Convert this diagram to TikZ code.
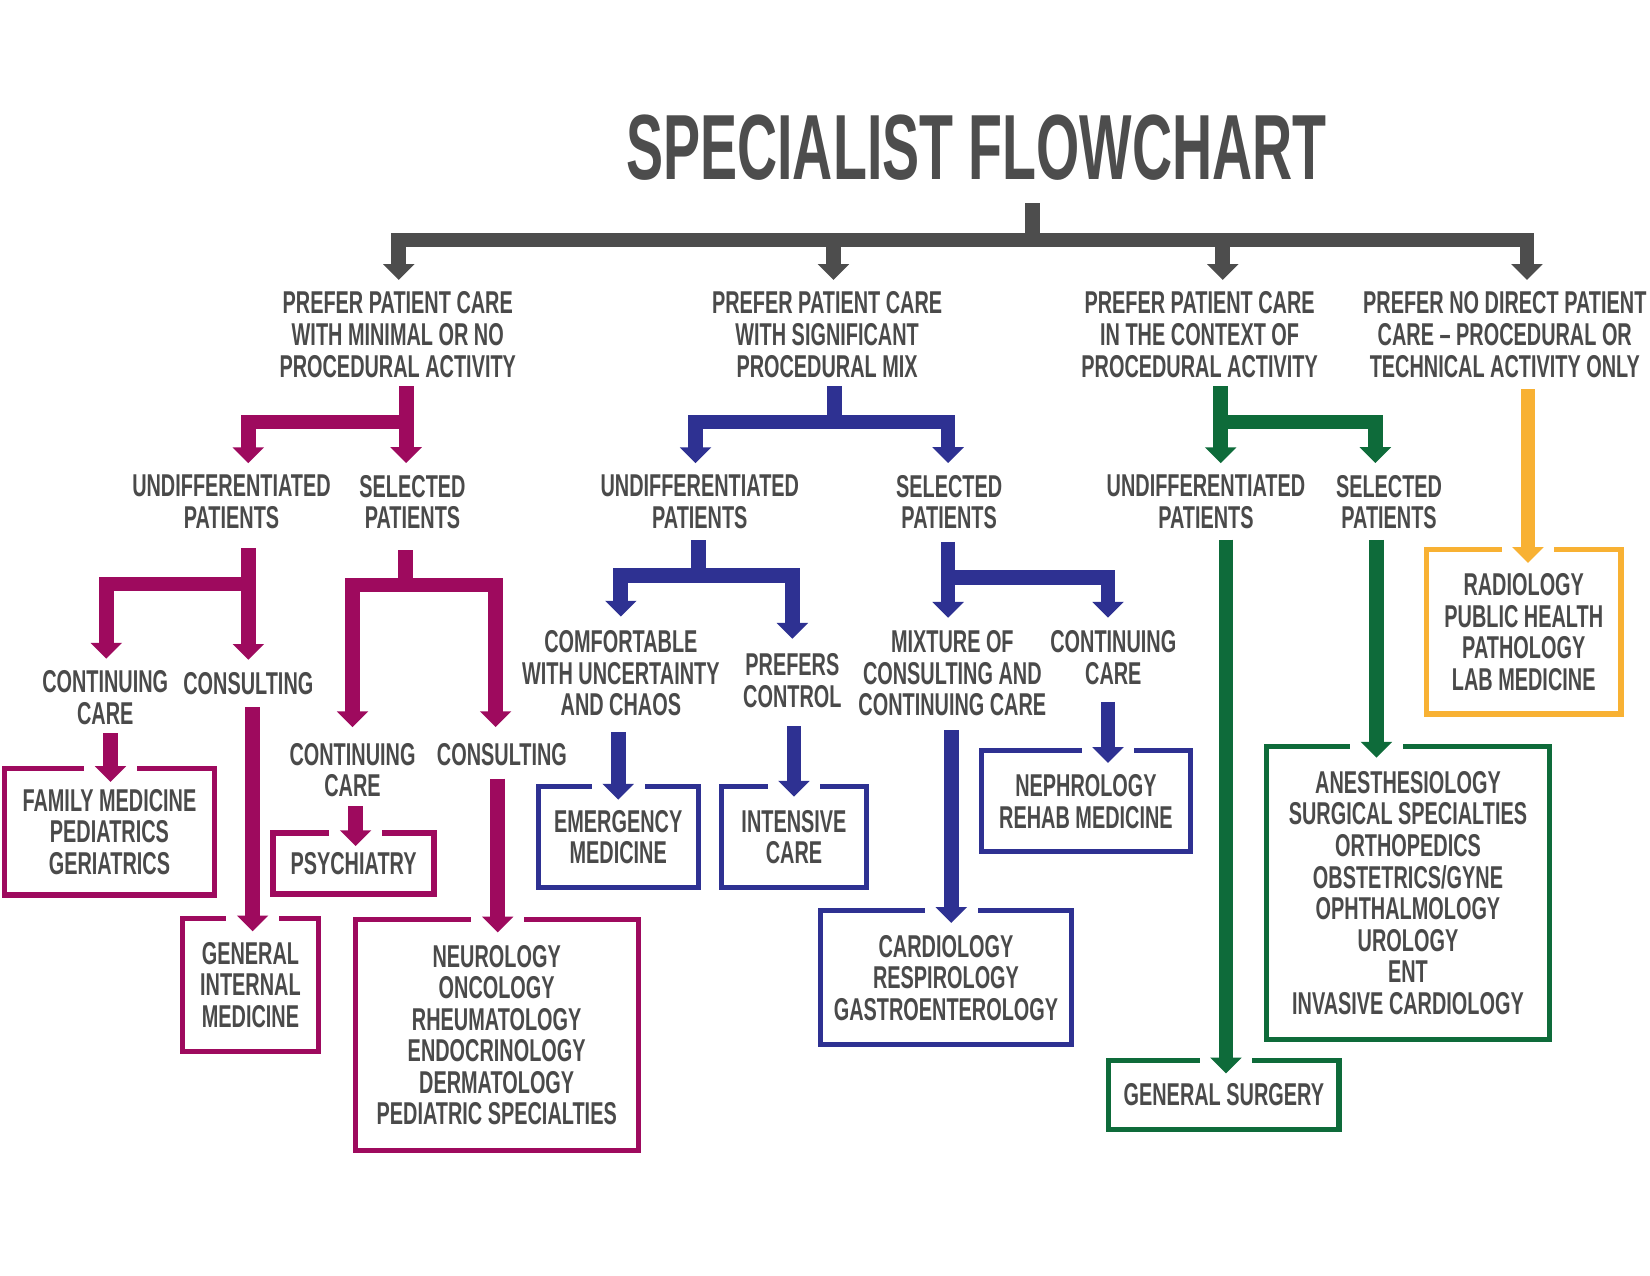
\documentclass[tikz,border=0pt]{standalone}
\usepackage{fontspec}
\newfontfamily\chartfont[FakeStretch=0.63,UprightFont={* Bold}]{Liberation Sans}
\newfontfamily\titlefont[FakeStretch=0.6,UprightFont={* Bold}]{Liberation Sans}
\usepackage{xcolor}
\definecolor{chartgray}{HTML}{4D4D4D}
\definecolor{txtgray}{HTML}{4A4A4A}
\definecolor{chartmag}{HTML}{9E0A5E}
\definecolor{chartblue}{HTML}{2E3192}
\definecolor{chartgreen}{HTML}{0E6B3A}
\definecolor{chartorange}{HTML}{F8B133}
\usetikzlibrary{arrows.meta,calc}

\begin{document}
\begin{tikzpicture}[
  x=0.5pt, y=0.5pt,
  lbl/.style={font=\chartfont\fontsize{15}{15}\selectfont, text=txtgray,
              align=center, inner sep=0pt},
  box/.style={lbl, draw, line width=2.5pt, text depth=-4.5pt},
  link/.style={line width=7pt, line join=miter},
  tipped/.style={-{Triangle[width=14.5pt,length=7.5pt]}},
  grayline/.style={link, chartgray},
  grayarrow/.style={grayline, tipped},
  mline/.style={link, chartmag},
  marrow/.style={mline, tipped},
  bline/.style={link, chartblue},
  barrow/.style={bline, tipped},
  grarrow/.style={link, chartgreen, tipped},
  oarrow/.style={link, chartorange, tipped}
]
  \useasboundingbox (0,0) rectangle (1568,-1212);
  \fill[white] (0,0) rectangle (1568,-1212);

  % title and first level
  \node[lbl, font=\titlefont\fontsize{44}{44}\selectfont, text=chartgray] (title) at (928,-140) {SPECIALIST FLOWCHART};
  \node[lbl] (l1a) at (378,-318) {PREFER PATIENT CARE\\WITH MINIMAL OR NO\\PROCEDURAL ACTIVITY};
  \node[lbl] (l1b) at (786,-318) {PREFER PATIENT CARE\\WITH SIGNIFICANT\\PROCEDURAL MIX};
  \node[lbl] (l1c) at (1140,-318) {PREFER PATIENT CARE\\IN THE CONTEXT OF\\PROCEDURAL ACTIVITY};
  \node[lbl] (l1d) at (1430,-318) {PREFER NO DIRECT PATIENT\\CARE – PROCEDURAL OR\\TECHNICAL ACTIVITY ONLY};

  % second level
  \node[lbl] (und1) at (220,-477) {UNDIFFERENTIATED\\PATIENTS};
  \node[lbl] (sel1) at (392,-477) {SELECTED\\PATIENTS};
  \node[lbl] (und2) at (665,-477) {UNDIFFERENTIATED\\PATIENTS};
  \node[lbl] (sel2) at (902,-477) {SELECTED\\PATIENTS};
  \node[lbl] (und3) at (1146,-477) {UNDIFFERENTIATED\\PATIENTS};
  \node[lbl] (sel3) at (1320,-477) {SELECTED\\PATIENTS};

  % third level
  \node[lbl] (cc1) at (100,-663) {CONTINUING\\CARE};
  \node[lbl] (cons1) at (236,-650) {CONSULTING};
  \node[lbl] (cc2) at (335,-732) {CONTINUING\\CARE};
  \node[lbl] (cons2) at (477,-717) {CONSULTING};
  \node[lbl] (comf) at (590,-640) {COMFORTABLE\\WITH UNCERTAINTY\\AND CHAOS};
  \node[lbl] (pref) at (753,-647) {PREFERS\\CONTROL};
  \node[lbl] (mix) at (905,-640) {MIXTURE OF\\CONSULTING AND\\CONTINUING CARE};
  \node[lbl] (cc3) at (1058,-625) {CONTINUING\\CARE};

  % specialty boxes
  \node[box, draw=chartmag, minimum width=99.5pt, minimum height=60pt] (fam) at (104,-790.5) {FAMILY MEDICINE\\PEDIATRICS\\GERIATRICS};
  \node[box, draw=chartmag, minimum width=76.5pt, minimum height=29pt] (psy) at (336,-820.5) {PSYCHIATRY};
  \node[box, draw=chartmag, minimum width=64.5pt, minimum height=63.5pt] (gim) at (238,-936) {GENERAL\\INTERNAL\\MEDICINE};
  \node[box, draw=chartmag, minimum width=134.5pt, minimum height=110pt] (neu) at (472,-983.5) {NEUROLOGY\\ONCOLOGY\\RHEUMATOLOGY\\ENDOCRINOLOGY\\DERMATOLOGY\\PEDIATRIC SPECIALTIES};
  \node[box, draw=chartblue, minimum width=76pt, minimum height=48pt] (emg) at (587.5,-795.5) {EMERGENCY\\MEDICINE};
  \node[box, draw=chartblue, minimum width=69pt, minimum height=48pt] (icu) at (754.5,-795.5) {INTENSIVE\\CARE};
  \node[box, draw=chartblue, minimum width=99.5pt, minimum height=48pt] (neph) at (1032,-761.5) {NEPHROLOGY\\REHAB MEDICINE};
  \node[box, draw=chartblue, minimum width=119.5pt, minimum height=63.5pt] (card) at (899,-929) {CARDIOLOGY\\RESPIROLOGY\\GASTROENTEROLOGY};
  \node[box, draw=chartgreen, minimum width=109.5pt, minimum height=33pt] (gsurg) at (1163,-1040.5) {GENERAL SURGERY};
  \node[box, draw=chartgreen, minimum width=134.5pt, minimum height=139pt] (bigg) at (1338,-848.5) {ANESTHESIOLOGY\\SURGICAL SPECIALTIES\\ORTHOPEDICS\\OBSTETRICS/GYNE\\OPHTHALMOLOGY\\UROLOGY\\ENT\\INVASIVE CARDIOLOGY};
  \node[box, draw=chartorange, minimum width=92.5pt, minimum height=78pt] (orng) at (1448,-600.5) {RADIOLOGY\\PUBLIC HEALTH\\PATHOLOGY\\LAB MEDICINE};

  % white gaps where arrows enter the boxes
  \foreach \b/\dx in {fam/1, gim/2, psy/2, neu/1, emg/0, icu/0, card/5, neph/21, gsurg/2, bigg/-30, orng/4}
    \fill[white] ($(\b.north)+(\dx-25,1)$) rectangle ($(\b.north)+(\dx+25,-7)$);

  % gray top tree
  \coordinate (hub) at (981,-228);
  \draw[grayline] (hub) -- ++(0,35);
  \draw[grayarrow] (hub) -| ($(l1a.north)+(1,11)$);
  \draw[grayarrow] (hub) -| ($(l1d.north)+(21,11)$);
  \draw[grayarrow] ($(hub -| l1b.north)+(6,0)$) -- ($(l1b.north)+(6,11)$);
  \draw[grayarrow] ($(hub -| l1c.north)+(22,0)$) -- ($(l1c.north)+(22,11)$);

  % magenta branch
  \coordinate (m1) at ($(l1a.south)+(8,-8)$);
  \draw[marrow] (m1) -- ($(m1 |- sel1.north)+(0,11)$);
  \draw[marrow] ($(m1)+(0,-34)$) -| ($(und1.north)+(16,11)$);
  \coordinate (m2) at ($(und1.south)+(16,-18)$);
  \draw[marrow] (m2) -- ($(m2 |- cons1.north)+(0,12)$);
  \draw[marrow] ($(m2)+(0,-34)$) -| ($(cc1.north)+(1,11)$);
  \coordinate (m3) at ($(sel1.south)+(-7,-20)$);
  \draw[mline] (m3) -- ++(0,-33);
  \draw[marrow] ($(m3)+(0,-33)$) -| ($(cc2.north)+(0,15)$);
  \draw[marrow] ($(m3)+(0,-33)$) -| ($(cons2.north)+(-6,15)$);
  \draw[marrow] ($(cc1.south -| fam.north)+(1,-8)$) -- ($(fam.north)+(1,-15)$);
  \draw[marrow] ($(cons1.south -| gim.north)+(2,-11)$) -- ($(gim.north)+(2,-15)$);
  \draw[marrow] ($(cc2.south -| psy.north)+(2,-8)$) -- ($(psy.north)+(2,-15)$);
  \draw[marrow] ($(cons2.south -| neu.north)+(1,-12)$) -- ($(neu.north)+(1,-15)$);

  % blue branch
  \coordinate (b1) at ($(l1b.south)+(7,-42)$);
  \draw[bline] (b1) -- ++(0,34);
  \draw[barrow] (b1) -| ($(und2.north)+(-4,11)$);
  \draw[barrow] (b1) -| ($(sel2.north)+(-1,11)$);
  \coordinate (b2) at ($(und2.south)+(-1,-44)$);
  \draw[bline] (b2) -- ++(0,34);
  \draw[barrow] (b2) -| ($(comf.north)+(0,13)$);
  \draw[barrow] (b2) -| ($(pref.north)+(0,14)$);
  \coordinate (b3) at ($(sel2.south)+(-1,-12)$);
  \draw[barrow] (b3) -- ($(b3 |- mix.north)+(0,12)$);
  \draw[barrow] ($(b3)+(0,-34)$) -| ($(cc3.north)+(-5,12)$);
  \draw[barrow] ($(comf.south -| emg.north)+(0,-15)$) -- ($(emg.north)+(0,-15)$);
  \draw[barrow] ($(pref.south -| icu.north)+(0,-17)$) -- ($(icu.north)+(0,-12)$);
  \draw[barrow] ($(mix.south -| card.north)+(5,-13)$) -- ($(card.north)+(5,-14)$);
  \draw[barrow] ($(cc3.south -| neph.north)+(21,-16)$) -- ($(neph.north)+(21,-14)$);

  % green branch
  \coordinate (gr1) at ($(l1c.south)+(20,-8)$);
  \draw[grarrow] (gr1) -- ($(gr1 |- und3.north)+(0,11)$);
  \draw[grarrow] ($(gr1)+(0,-34)$) -| ($(sel3.north)+(-13,11)$);
  \draw[grarrow] ($(und3.south -| gsurg.north)+(2,-10)$) -- ($(gsurg.north)+(2,-15)$);
  \draw[grarrow] ($(sel3.south -| bigg.north)+(-30,-10)$) -- ($(bigg.north)+(-30,-13)$);

  % orange branch
  \draw[oarrow] ($(l1d.south -| orng.north)+(4,-11)$) -- ($(orng.north)+(4,-15)$);
\end{tikzpicture}
\end{document}
